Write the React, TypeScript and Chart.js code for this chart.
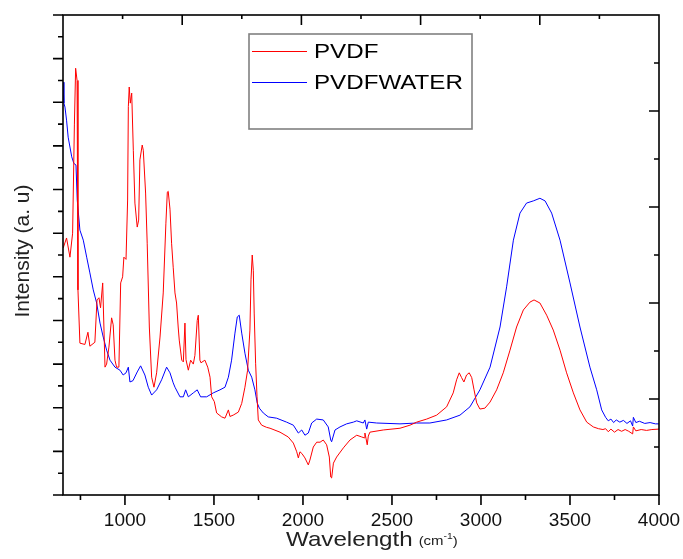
import React, { useEffect, useRef } from 'react';
import { Chart, registerables } from 'chart.js';

Chart.register(...registerables);

// ---- data ----
const SERIES_NAMES = ['PVDF', 'PVDFWATER'];
const SERIES_COLORS = ['#ff0000', '#0000ff'];

const PVDF_X = [653, 672, 691, 706, 716, 723, 731, 736, 747, 775, 792, 803, 831, 843, 854, 863, 875, 888, 897, 910, 925, 934, 944, 953, 966, 976, 987, 994, 1006, 1015, 1019, 1024, 1030, 1038, 1047, 1056, 1069, 1077, 1084, 1097, 1103, 1116, 1125, 1137, 1150, 1163, 1178, 1197, 1215, 1230, 1238, 1243, 1253, 1262, 1271, 1281, 1290, 1299, 1305, 1319, 1328, 1337, 1343, 1356, 1369, 1384, 1393, 1406, 1412, 1421, 1427, 1449, 1465, 1478, 1487, 1502, 1515, 1543, 1562, 1581, 1590, 1608, 1637, 1656, 1674, 1689, 1702, 1708, 1715, 1721, 1726, 1734, 1742, 1749, 1768, 1796, 1815, 1871, 1917, 1946, 1965, 1974, 1983, 1994, 2011, 2030, 2039, 2058, 2077, 2096, 2114, 2133, 2148, 2156, 2161, 2171, 2189, 2227, 2264, 2302, 2330, 2344, 2348, 2354, 2361, 2367, 2376, 2451, 2545, 2601, 2639, 2695, 2751, 2807, 2844, 2863, 2878, 2891, 2904, 2919, 2934, 2948, 2961, 2976, 2994, 3022, 3051, 3088, 3125, 3163, 3200, 3238, 3275, 3298, 3331, 3369, 3406, 3444, 3481, 3519, 3556, 3594, 3631, 3660, 3685, 3700, 3715, 3730, 3750, 3770, 3790, 3810, 3830, 3852, 3856, 3870, 3900, 3930, 3960, 4000];
const PVDF_Y = [5.66, 5.89, 5.45, 6.0, 8.5, 9.78, 9.5, 4.7, 3.48, 3.45, 3.73, 3.41, 3.5, 4.47, 4.52, 4.29, 4.86, 2.93, 3.0, 3.39, 4.06, 3.9, 3.09, 2.93, 2.93, 4.86, 5.0, 5.45, 5.4, 6.76, 8.9, 9.35, 8.98, 9.21, 7.9, 6.69, 6.14, 6.3, 7.68, 8.02, 7.9, 6.92, 5.77, 3.85, 2.7, 2.47, 2.8, 3.62, 4.63, 6.23, 6.94, 6.96, 6.55, 5.77, 5.22, 4.63, 4.4, 3.85, 3.55, 3.09, 3.05, 3.94, 3.1, 2.86, 3.09, 3.0, 3.2, 4.0, 4.12, 3.09, 3.03, 3.09, 2.93, 2.7, 2.25, 2.14, 1.88, 1.79, 1.76, 1.95, 1.8, 1.83, 1.9, 2.1, 2.47, 2.86, 3.78, 4.93, 5.5, 5.15, 4.17, 3.02, 2.25, 1.72, 1.6, 1.55, 1.53, 1.44, 1.33, 1.19, 0.99, 0.85, 0.99, 0.95, 0.85, 0.69, 0.8, 1.1, 1.21, 1.21, 1.26, 1.15, 0.87, 0.41, 0.39, 0.73, 0.87, 1.08, 1.26, 1.37, 1.33, 1.31, 1.42, 1.3, 1.15, 1.35, 1.44, 1.49, 1.53, 1.6, 1.67, 1.74, 1.83, 2.02, 2.34, 2.64, 2.8, 2.69, 2.59, 2.75, 2.8, 2.69, 2.41, 2.11, 1.97, 1.99, 2.13, 2.41, 2.8, 3.32, 3.85, 4.24, 4.42, 4.47, 4.4, 4.12, 3.78, 3.32, 2.8, 2.34, 1.95, 1.67, 1.56, 1.52, 1.5, 1.52, 1.45, 1.51, 1.44, 1.5, 1.46, 1.5, 1.46, 1.4, 1.56, 1.47, 1.5, 1.48, 1.5, 1.51];

const WATER_X = [652, 657, 663, 672, 681, 701, 713, 725, 732, 747, 766, 785, 803, 822, 841, 860, 878, 897, 916, 944, 972, 990, 1006, 1019, 1028, 1045, 1069, 1088, 1112, 1131, 1150, 1178, 1206, 1234, 1253, 1271, 1281, 1309, 1328, 1341, 1356, 1384, 1406, 1425, 1459, 1496, 1534, 1562, 1581, 1599, 1618, 1631, 1642, 1656, 1674, 1693, 1712, 1730, 1743, 1755, 1777, 1805, 1852, 1908, 1946, 1974, 1993, 2011, 2030, 2049, 2077, 2114, 2142, 2156, 2161, 2180, 2208, 2245, 2283, 2302, 2339, 2348, 2358, 2367, 2414, 2545, 2639, 2713, 2807, 2882, 2938, 2994, 3051, 3107, 3144, 3182, 3219, 3256, 3294, 3331, 3360, 3397, 3444, 3500, 3556, 3612, 3650, 3678, 3700, 3715, 3730, 3745, 3760, 3780, 3800, 3820, 3840, 3852, 3856, 3870, 3890, 3920, 3950, 3980, 4000];
const WATER_Y = [9.46, 8.98, 8.89, 8.59, 8.2, 7.75, 7.6, 7.56, 6.76, 6.07, 5.84, 5.45, 5.09, 4.7, 4.4, 3.94, 3.62, 3.32, 3.09, 2.93, 2.86, 2.75, 2.8, 2.93, 2.59, 2.62, 2.82, 2.96, 2.75, 2.47, 2.29, 2.41, 2.64, 2.93, 2.8, 2.57, 2.47, 2.25, 2.25, 2.41, 2.25, 2.34, 2.41, 2.25, 2.25, 2.34, 2.41, 2.47, 2.7, 3.09, 3.71, 4.08, 4.12, 3.71, 3.25, 2.86, 2.7, 2.41, 2.11, 1.99, 1.88, 1.79, 1.76, 1.67, 1.6, 1.42, 1.49, 1.37, 1.42, 1.65, 1.74, 1.72, 1.56, 1.26, 1.22, 1.49, 1.56, 1.63, 1.67, 1.7, 1.65, 1.72, 1.51, 1.67, 1.65, 1.63, 1.65, 1.65, 1.72, 1.83, 2.02, 2.41, 2.93, 3.85, 4.77, 5.84, 6.46, 6.69, 6.74, 6.8, 6.74, 6.46, 5.84, 4.86, 3.85, 2.93, 2.41, 1.95, 1.78, 1.7, 1.74, 1.66, 1.72, 1.67, 1.71, 1.64, 1.7, 1.58, 1.78, 1.66, 1.69, 1.64, 1.66, 1.63, 1.63];

const X_MIN = 652;
const X_MAX = 4000;
const X_TICKS = [1000, 1500, 2000, 2500, 3000, 3500, 4000];
const X_TICK_LABELS = ['1000', '1500', '2000', '2500', '3000', '3500', '4000'];
const X_MINOR = [750, 1250, 1750, 2250, 2750, 3250, 3750];
const Y_MIN = 0;
const Y_MAX = 11;
const Y_MAJOR = [0, 1, 2, 3, 4, 5, 6, 7, 8, 9, 10, 11];
const Y_MINOR = [0.5, 1.5, 2.5, 3.5, 4.5, 5.5, 6.5, 7.5, 8.5, 9.5, 10.5];

const X_TITLE = 'Wavelength';
const X_UNIT = '(cm';
const X_UNIT_SUP = '-1';
const Y_TITLE = 'Intensity (a. u)';

const FONT = '"Liberation Sans", Arial, sans-serif';
const STRETCH = 1.15;

function stretchedText(ctx: CanvasRenderingContext2D, text: string, x: number, y: number, size: number, align: 'left' | 'center' = 'left') {
  ctx.save();
  ctx.font = `${size}px ${FONT}`;
  ctx.translate(x, y);
  ctx.scale(STRETCH, 1);
  ctx.textAlign = align;
  ctx.textBaseline = 'alphabetic';
  ctx.fillText(text, 0, 0);
  const w = ctx.measureText(text).width * STRETCH;
  ctx.restore();
  return w;
}

const decorPlugin = {
  id: 'decor',
  afterDraw(chart: any) {
    const { ctx, chartArea: a, scales } = chart;
    const xs = scales.x;
    const ys = scales.y;
    const w = a.right - a.left;
    const h = a.bottom - a.top;
    ctx.save();
    ctx.strokeStyle = '#000';
    ctx.lineWidth = 1.6;
    ctx.strokeRect(a.left, a.top, w, h);
    ctx.beginPath();
    X_TICKS.forEach((v) => {
      const p = xs.getPixelForValue(v);
      ctx.moveTo(p, a.bottom);
      ctx.lineTo(p, a.bottom + 10);
    });
    X_MINOR.forEach((v) => {
      const p = xs.getPixelForValue(v);
      ctx.moveTo(p, a.bottom);
      ctx.lineTo(p, a.bottom + 5);
    });
    Y_MAJOR.forEach((v) => {
      const p = ys.getPixelForValue(v);
      ctx.moveTo(a.left, p);
      ctx.lineTo(a.left - 10, p);
    });
    Y_MINOR.forEach((v) => {
      const p = ys.getPixelForValue(v);
      ctx.moveTo(a.left, p);
      ctx.lineTo(a.left - 5, p);
    });
    for (let k = 1; k <= 9; k++) {
      const px = a.left + (k * w) / 10;
      const len = k % 2 === 0 ? 10 : 4;
      ctx.moveTo(px, a.top);
      ctx.lineTo(px, a.top + len);
      const py = a.top + (k * h) / 10;
      const len2 = k % 2 === 0 ? 10 : 5;
      ctx.moveTo(a.right, py);
      ctx.lineTo(a.right - len2, py);
    }
    ctx.stroke();

    // legend
    ctx.strokeStyle = '#808080';
    ctx.lineWidth = 1.6;
    ctx.strokeRect(249, 34, 223, 95);
    ctx.lineWidth = 1;
    ctx.strokeStyle = SERIES_COLORS[0];
    ctx.beginPath();
    ctx.moveTo(252, 51.5);
    ctx.lineTo(307, 51.5);
    ctx.stroke();
    ctx.strokeStyle = SERIES_COLORS[1];
    ctx.beginPath();
    ctx.moveTo(252, 82.5);
    ctx.lineTo(307, 82.5);
    ctx.stroke();
    ctx.fillStyle = '#000';
    stretchedText(ctx, SERIES_NAMES[0], 314, 58, 21);
    stretchedText(ctx, SERIES_NAMES[1], 314, 89, 21);

    // x title
    ctx.fillStyle = '#222';
    let x0 = 286;
    x0 += stretchedText(ctx, X_TITLE, x0, 546, 21);
    x0 += 6;
    x0 += stretchedText(ctx, X_UNIT, x0, 545, 13);
    x0 += stretchedText(ctx, X_UNIT_SUP, x0, 539, 9);
    stretchedText(ctx, ')', x0, 545, 13);

    // y title
    ctx.save();
    ctx.translate(29, 251);
    ctx.rotate(-Math.PI / 2);
    ctx.font = `21px ${FONT}`;
    ctx.textAlign = 'center';
    ctx.textBaseline = 'alphabetic';
    ctx.fillText(Y_TITLE, 0, 0);
    ctx.restore();
    ctx.restore();
  },
};

export default function App() {
  const ref = useRef<HTMLCanvasElement | null>(null);
  useEffect(() => {
    if (!ref.current) return;
    const chart = new Chart(ref.current, {
      type: 'line',
      data: {
        datasets: [
          {
            label: SERIES_NAMES[0],
            data: PVDF_X.map((x, i) => ({ x, y: PVDF_Y[i] })),
            borderColor: SERIES_COLORS[0],
            borderWidth: 1,
            pointRadius: 0,
            tension: 0,
            fill: false,
          },
          {
            label: SERIES_NAMES[1],
            data: WATER_X.map((x, i) => ({ x, y: WATER_Y[i] })),
            borderColor: SERIES_COLORS[1],
            borderWidth: 1,
            pointRadius: 0,
            tension: 0,
            fill: false,
          },
        ],
      },
      options: {
        animation: false,
        responsive: false,
        layout: { padding: { left: 63, right: 24, top: 15, bottom: 0 } },
        plugins: { legend: { display: false }, tooltip: { enabled: false } },
        scales: {
          x: {
            type: 'linear',
            min: X_MIN,
            max: X_MAX,
            grid: { display: false, drawTicks: false },
            border: { display: false },
            afterBuildTicks: (s: any) => {
              s.ticks = X_TICKS.map((v) => ({ value: v }));
            },
            afterFit: (s: any) => {
              s.height = 64;
              s.paddingLeft = 0;
              s.paddingRight = 0;
            },
            ticks: {
              autoSkip: false,
              maxRotation: 0,
              padding: 14,
              color: '#111',
              font: { family: FONT, size: 19 },
              callback: (v: any) => {
                const i = X_TICKS.indexOf(Number(v));
                return i >= 0 ? X_TICK_LABELS[i] : '';
              },
            },
          },
          y: {
            type: 'linear',
            min: Y_MIN,
            max: Y_MAX,
            display: false,
          },
        },
      },
      plugins: [decorPlugin],
    });
    return () => chart.destroy();
  }, []);
  return (
    <div style={{ position: 'absolute', left: 0, top: 0, width: 683, height: 559, background: '#fff' }}>
      <canvas ref={ref} width={683} height={559} style={{ width: 683, height: 559, display: 'block' }} />
    </div>
  );
}
